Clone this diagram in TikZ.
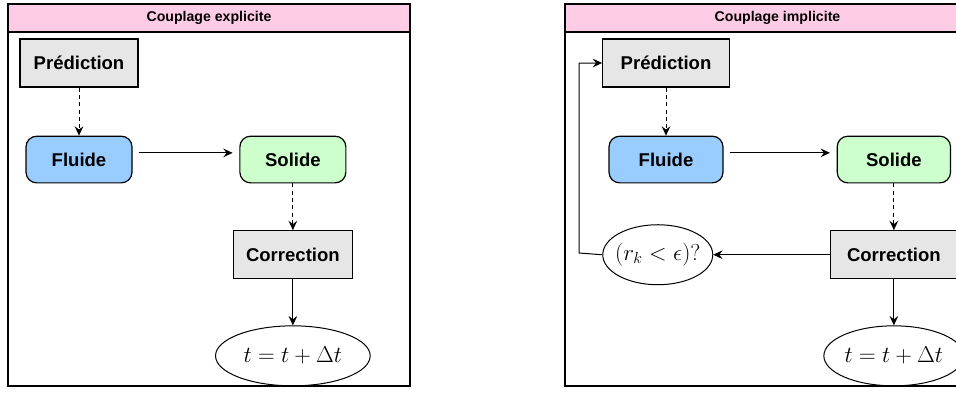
\documentclass[tikz,border=0pt]{standalone}
\usepackage{fontspec}
\setsansfont{Liberation Sans}
\usetikzlibrary{positioning, shapes.geometric, arrows.meta}

\definecolor{predgray}{HTML}{E6E6E6}
\definecolor{fluideblue}{HTML}{99CCFF}
\definecolor{solidegreen}{HTML}{CCFFCC}
\definecolor{headpink}{HTML}{FFCCE6}

\tikzset{
  stepbox/.style={draw, line width=0.9pt, fill=predgray, minimum height=36pt,
    font=\sffamily\bfseries\fontsize{13.9}{16}\selectfont, inner sep=0pt},
  solver/.style={draw, line width=0.9pt, rounded corners=8pt, minimum height=35pt,
    minimum width=79.5pt, font=\sffamily\bfseries\fontsize{13.9}{16}\selectfont, inner sep=0pt},
  test/.style={draw, line width=0.75pt, ellipse, minimum height=45pt, inner sep=0pt,
    font=\fontsize{17.5}{21}\selectfont},
  header/.style={draw, line width=1pt, fill=headpink, minimum height=21pt, inner sep=0pt,
    font=\sffamily\bfseries\fontsize{10.6}{12}\selectfont},
  flow/.style={-{Stealth[length=7pt, width=6.5pt, inset=2.5pt]}, line width=0.75pt},
  pointille/.style={dash pattern=on 3pt off 2.5pt},
}

\begin{document}
\begin{tikzpicture}[x=0.75pt, y=-0.75pt]
  \useasboundingbox (0,0) rectangle (956,396);
  \clip (0,0) rectangle (956,396);
  %
  % couplage explicite
  \draw[line width=1pt] (8,4) rectangle (410,386);
  \node[header, minimum width=301.5pt] (head1) at (209,18) {Couplage explicite};
  \node[stepbox, minimum width=88.5pt] (pred1) at (79,63) {Prédiction};
  \node[solver, fill=fluideblue, below=36pt of pred1] (fluide1) {Fluide};
  \node[solver, fill=solidegreen, right=80pt of fluide1] (solide1) {Solide};
  \node[stepbox, minimum width=89pt, below=35pt of solide1] (corr1) {Correction};
  \node[test, minimum width=116pt, below=34.5pt of corr1] (temps1) {$t=t+\Delta t$};
  %
  \draw[flow, pointille] (pred1) -- (fluide1);
  \draw[flow, shorten <=4.5pt, shorten >=5pt] ([yshift=5pt]fluide1.east) -- ([yshift=5pt]solide1.west);
  \draw[flow, pointille] (solide1) -- (corr1);
  \draw[flow] (corr1) -- (temps1);
  %
  % couplage implicite
  \draw[line width=1pt] (565,4) rectangle (990,386);
  \node[header, minimum width=318.75pt] (head2) at (777.5,18) {Couplage implicite};
  \node[stepbox, minimum width=95pt] (pred2) at (666,63) {Prédiction};
  \node[solver, fill=fluideblue, minimum width=85.5pt, below=36pt of pred2] (fluide2) {Fluide};
  \node[solver, fill=solidegreen, minimum width=85pt, right=84.75pt of fluide2] (solide2) {Solide};
  \node[stepbox, minimum width=94.5pt, below=35pt of solide2] (corr2) {Correction};
  \node[test, minimum width=105pt, below=34.5pt of corr2] (temps2) {$t=t+\Delta t$};
  \node[test, minimum width=82.5pt, left=87.75pt of corr2,
        label={[font=\fontsize{17.5}{21}\selectfont]center:$(r_k<\epsilon)?$}] (conv) {};
  \coordinate (retour) at (579,253);
  %
  \draw[flow, pointille] (pred2) -- (fluide2);
  \draw[flow, shorten <=4.5pt, shorten >=5pt] ([yshift=5pt]fluide2.east) -- ([yshift=5pt]solide2.west);
  \draw[flow, pointille] (solide2) -- (corr2);
  \draw[flow] (corr2) -- (temps2);
  \draw[flow] (corr2) -- (conv);
  \draw[flow] (conv.west) -- (retour) |- (pred2.west);
\end{tikzpicture}
\end{document}
